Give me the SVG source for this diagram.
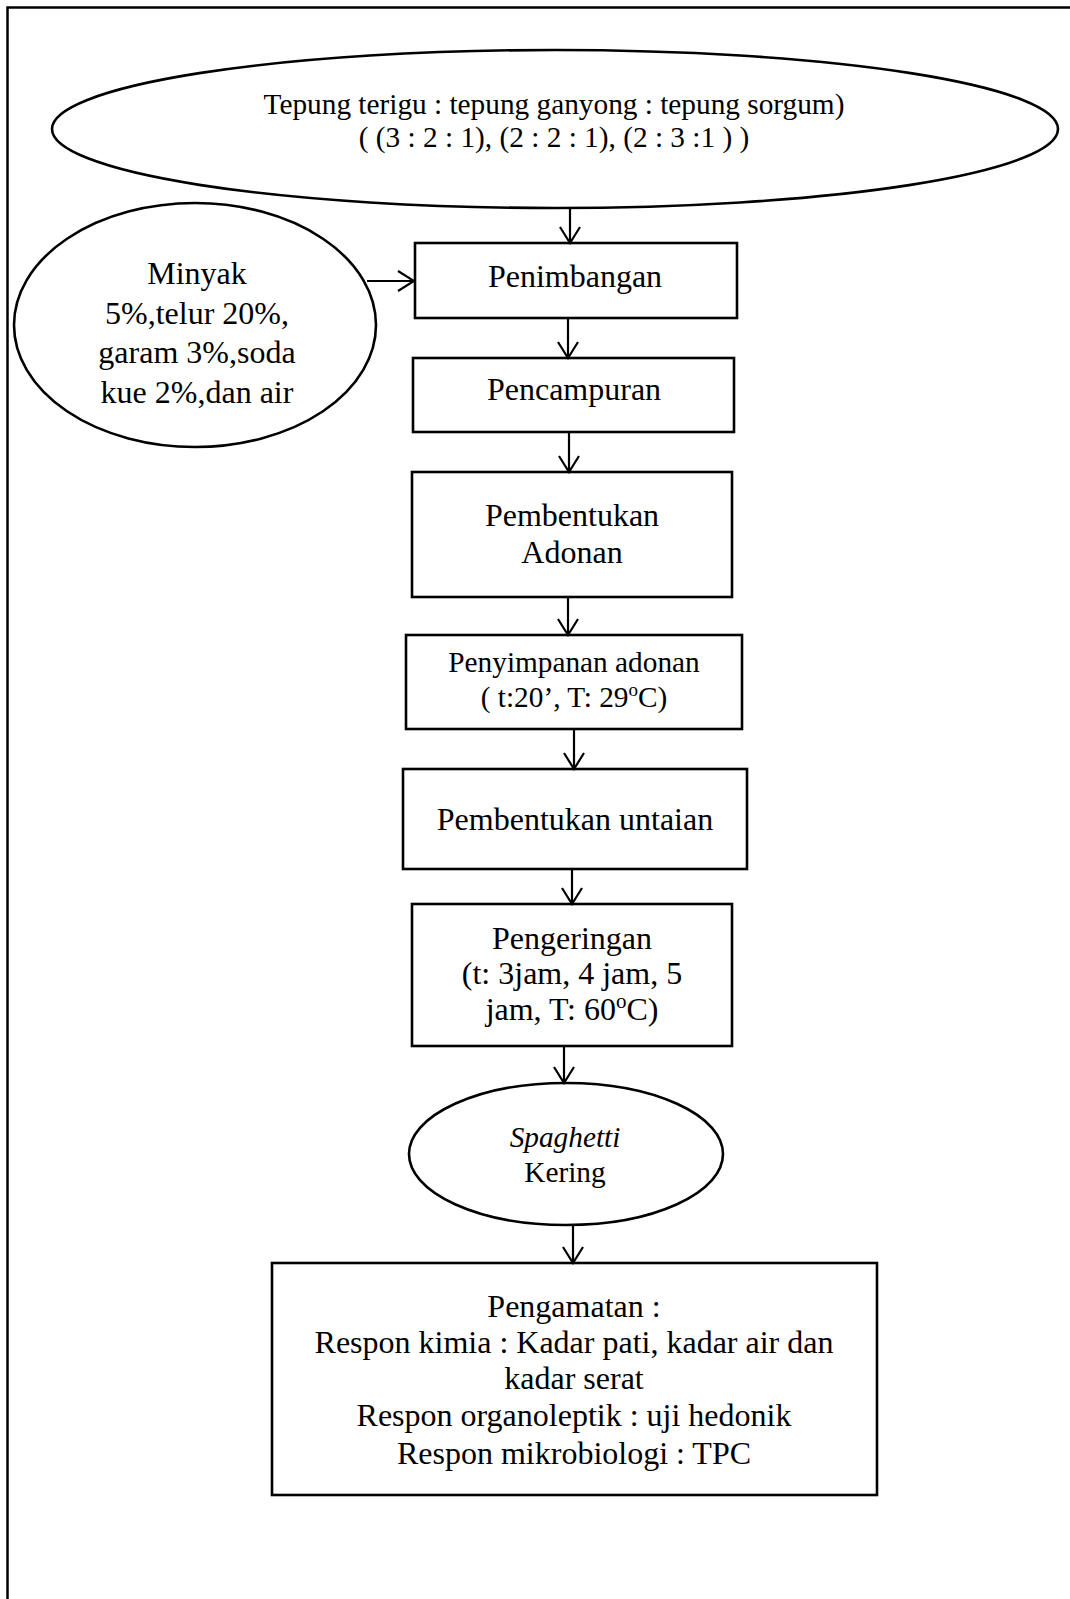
<svg xmlns="http://www.w3.org/2000/svg" width="1070" height="1599" viewBox="0 0 1070 1599">
<style>
  .shape { fill: #fff; stroke: #000; stroke-width: 2.6; }
  .frame { fill: none; stroke: #000; stroke-width: 2.5; }
  .t { font-family: "Liberation Serif", "Times New Roman", serif; fill: #000; text-anchor: middle; }
  .b { font-size: 32px; }
  .s { font-size: 29.3px; }
  .conn { stroke: #000; stroke-width: 2.2; fill: none; }
</style>
<defs>
  <marker id="ah" markerWidth="20" markerHeight="24" refX="18" refY="12" orient="auto" markerUnits="userSpaceOnUse">
    <path d="M2,2 L18,12 L2,22" fill="none" stroke="#000" stroke-width="2.2"/>
  </marker>
</defs>
<rect width="1070" height="1599" fill="#fff"/>
<rect class="frame" x="7.5" y="7.5" width="1100" height="1700"/>

<g id="n-tepung">
  <ellipse class="shape" cx="555" cy="129" rx="503" ry="79"/>
  <text class="t s" x="554" y="114">Tepung terigu : tepung ganyong : tepung sorgum)</text>
  <text class="t s" x="554" y="147">( (3 : 2 : 1), (2 : 2 : 1), (2 : 3 :1 ) )</text>
</g>

<g id="n-minyak">
  <ellipse class="shape" cx="195" cy="325" rx="181" ry="122"/>
  <text class="t b" x="197" y="284">Minyak</text>
  <text class="t b" x="197" y="324">5%,telur 20%,</text>
  <text class="t b" x="197" y="363">garam 3%,soda</text>
  <text class="t b" x="197" y="403">kue 2%,dan air</text>
</g>

<g id="n-penimbangan">
  <rect class="shape" x="415" y="243" width="322" height="75"/>
  <text class="t b" x="575" y="287">Penimbangan</text>
</g>

<g id="n-pencampuran">
  <rect class="shape" x="413" y="358" width="321" height="74"/>
  <text class="t b" x="574" y="400">Pencampuran</text>
</g>

<g id="n-pembentukan-adonan">
  <rect class="shape" x="412" y="472" width="320" height="125"/>
  <text class="t b" x="572" y="526">Pembentukan</text>
  <text class="t b" x="572" y="563">Adonan</text>
</g>

<g id="n-penyimpanan">
  <rect class="shape" x="406" y="635" width="336" height="94"/>
  <text class="t s" x="574" y="672">Penyimpanan adonan</text>
  <text class="t s" x="574" y="707">( t:20’, T: 29<tspan font-size="19" dy="-11">o</tspan><tspan dy="11">C)</tspan></text>
</g>

<g id="n-untaian">
  <rect class="shape" x="403" y="769" width="344" height="100"/>
  <text class="t b" x="575" y="830">Pembentukan untaian</text>
</g>

<g id="n-pengeringan">
  <rect class="shape" x="412" y="904" width="320" height="142"/>
  <text class="t b" x="572" y="949">Pengeringan</text>
  <text class="t b" x="572" y="984">(t: 3jam, 4 jam, 5</text>
  <text class="t b" x="572" y="1020">jam, T: 60<tspan font-size="21" dy="-12">o</tspan><tspan dy="12">C)</tspan></text>
</g>

<g id="n-spaghetti">
  <ellipse class="shape" cx="566" cy="1154" rx="157" ry="71"/>
  <text class="t s" x="565" y="1147" font-style="italic">Spaghetti</text>
  <text class="t s" x="565" y="1182">Kering</text>
</g>

<g id="n-pengamatan">
  <rect class="shape" x="272" y="1263" width="605" height="232"/>
  <text class="t b" x="574" y="1317">Pengamatan :</text>
  <text class="t b" x="574" y="1353">Respon kimia : Kadar pati, kadar air dan</text>
  <text class="t b" x="574" y="1389">kadar serat</text>
  <text class="t b" x="574" y="1426">Respon organoleptik : uji hedonik</text>
  <text class="t b" x="574" y="1464">Respon mikrobiologi : TPC</text>
</g>

<g id="connectors">
  <line class="conn" x1="570" y1="208" x2="570" y2="243" marker-end="url(#ah)"/>
  <line class="conn" x1="367" y1="281" x2="414" y2="281" marker-end="url(#ah)"/>
  <line class="conn" x1="568" y1="318" x2="568" y2="358" marker-end="url(#ah)"/>
  <line class="conn" x1="569" y1="432" x2="569" y2="472" marker-end="url(#ah)"/>
  <line class="conn" x1="568" y1="597" x2="568" y2="635" marker-end="url(#ah)"/>
  <line class="conn" x1="574" y1="729" x2="574" y2="769" marker-end="url(#ah)"/>
  <line class="conn" x1="572" y1="869" x2="572" y2="904" marker-end="url(#ah)"/>
  <line class="conn" x1="564" y1="1046" x2="564" y2="1083" marker-end="url(#ah)"/>
  <line class="conn" x1="573" y1="1225" x2="573" y2="1263" marker-end="url(#ah)"/>
</g>
</svg>
